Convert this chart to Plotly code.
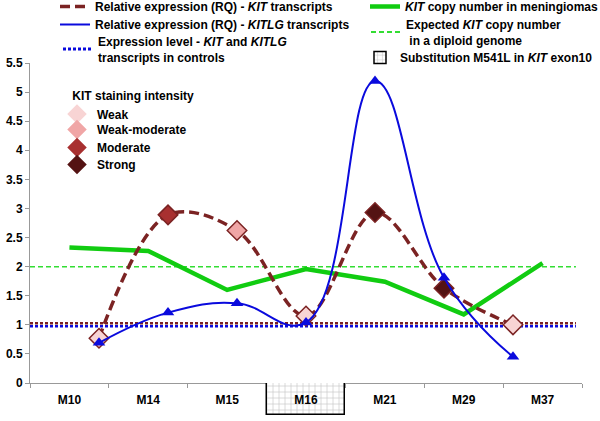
import plotly.graph_objects as go

# ---------------- data ----------------
samples = ["M10", "M14", "M15", "M16", "M21", "M29", "M37"]
kit_copy_number = [2.33, 2.27, 1.60, 1.96, 1.74, 1.18, 2.06]
kit_rq = [0.77, 2.89, 2.62, 1.15, 2.93, 1.63, 1.00]
kitlg_rq = [0.69, 1.21, 1.37, 1.04, 5.19, 1.81, 0.45]
kit_staining = ["Weak", "Moderate", "Weak-moderate", "Weak", "Strong", "Strong", "Weak"]
staining_levels = ["Weak", "Weak-moderate", "Moderate", "Strong"]
staining_colors = {"Weak": "#F8D4D4", "Weak-moderate": "#F0A6A6",
                   "Moderate": "#A83030", "Strong": "#541313"}
substitution_samples = ["M16"]
expected_copy_number = 2
control_expression = 1
y_ticks = [0, 0.5, 1, 1.5, 2, 2.5, 3, 3.5, 4, 4.5, 5, 5.5]

# positions of RQ points on the secondary (offset) axis
rq_pos = list(range(1, len(samples) + 1))

KIT_RED = "#7B2323"
BLUE = "#0A0ADD"
GREEN = "#11CC11"
GREEN_D = "#33DD33"
FONT = "Liberation Sans, Arial, sans-serif"
OFFSET = 8            # page is shifted up by this many pixels (see post_script)
W, H = 600, 421 + OFFSET

fig = go.Figure()

# green copy number line (category axis)
fig.add_trace(go.Scatter(
    x=samples, y=kit_copy_number, mode="lines",
    line=dict(color=GREEN, width=4.5),
    name="<i>KIT</i> copy number in meningiomas", legend="legend4",
    xaxis="x", yaxis="y"))

# KIT RQ line + markers (secondary x axis)
fig.add_trace(go.Scatter(
    x=rq_pos, y=kit_rq, mode="lines",
    line=dict(color=KIT_RED, width=3.5, dash="10px,5px", shape="spline", smoothing=1),
    name="Relative expression (RQ) - <i>KIT</i> transcripts", legend="legend",
    xaxis="x2", yaxis="y"))
fig.add_trace(go.Scatter(
    x=rq_pos, y=kit_rq, mode="markers",
    marker=dict(symbol="diamond", size=15,
                color=[staining_colors[s] for s in kit_staining],
                line=dict(color=KIT_RED, width=1.5)),
    showlegend=False, xaxis="x2", yaxis="y"))

# KITLG RQ line + markers
fig.add_trace(go.Scatter(
    x=rq_pos, y=kitlg_rq, mode="lines",
    line=dict(color=BLUE, width=2, shape="spline", smoothing=1.2),
    name="Relative expression (RQ) - <i>KITLG</i> transcripts", legend="legend2",
    xaxis="x2", yaxis="y"))
fig.add_trace(go.Scatter(
    x=rq_pos, y=kitlg_rq, mode="markers",
    marker=dict(symbol="triangle-up", size=11, color=BLUE),
    showlegend=False, xaxis="x2", yaxis="y"))

# legend-only entries for reference lines
fig.add_trace(go.Scatter(
    x=[None], y=[None], mode="lines",
    line=dict(color=BLUE, width=3, dash="3px,2px"),
    name="Expression level - <i>KIT</i> and <i>KITLG</i><br>transcripts in controls",
    legend="legend3", xaxis="x2", yaxis="y"))
fig.add_trace(go.Scatter(
    x=[None], y=[None], mode="lines",
    line=dict(color=GREEN_D, width=2, dash="5px,3px"),
    name="Expected <i>KIT</i> copy number<br> in a diploid genome",
    legend="legend5", xaxis="x2", yaxis="y"))

# substitution box below M16
fig.add_trace(go.Bar(
    x=substitution_samples, y=[1] * len(substitution_samples), width=1,
    marker=dict(color="white", line=dict(color="black", width=1.5),
                pattern=dict(shape="+", fgcolor="#8C8C8C", bgcolor="white",
                             size=6, solidity=0.2)),
    name="Substitution M541L in <i>KIT</i> exon10", legend="legend6",
    xaxis="x3", yaxis="y3"))

# staining intensity legend entries
for i, lvl in enumerate(staining_levels):
    fig.add_trace(go.Scatter(
        x=[None], y=[None], mode="markers",
        marker=dict(symbol="diamond", size=15, color=staining_colors[lvl]),
        name=lvl, legend="legend%d" % (7 + i), xaxis="x2", yaxis="y"))

# reference horizontal lines
fig.add_shape(type="line", xref="paper", yref="y", x0=0, x1=0.989,
              y0=expected_copy_number, y1=expected_copy_number, layer="below",
              line=dict(color=GREEN_D, width=1.5, dash="5px,3px"))
fig.add_shape(type="line", xref="paper", yref="y", x0=0, x1=0.989,
              ysizemode="pixel", yanchor=control_expression, y0=1.5, y1=1.5,
              layer="below", line=dict(color=KIT_RED, width=2.5, dash="3px,2px"))
fig.add_shape(type="line", xref="paper", yref="y", x0=0, x1=0.989,
              ysizemode="pixel", yanchor=control_expression, y0=-1.5, y1=-1.5,
              layer="below", line=dict(color=BLUE, width=2.5, dash="3px,2px"))


def leg(px, center, title=None):
    """legend whose first text line (or title) is centred at window row `center`"""
    top = center + OFFSET - (11 if title else 15)
    d = dict(xref="container", yref="container", bgcolor="rgba(0,0,0,0)",
             borderwidth=0, xanchor="left", yanchor="top",
             x=px / W, y=1 - top / H,
             font=dict(family=FONT, size=12, color="black", weight="bold"))
    if title:
        d["title"] = dict(text=title,
                          font=dict(family=FONT, size=12, color="black", weight="bold"))
    return d


split = 32 / 352.0

fig.update_layout(
    width=W, height=H,
    margin=dict(l=30, r=18, t=63 + OFFSET, b=6, autoexpand=False),
    paper_bgcolor="white", plot_bgcolor="rgba(0,0,0,0)",
    font=dict(family=FONT, size=12, color="black", weight="bold"),
    bargap=0,
    xaxis=dict(type="category", categoryorder="array", categoryarray=samples,
               range=[-0.5, len(samples) - 0.5], tickson="boundaries",
               showticklabels=False, ticks="outside", ticklen=4, tickcolor="#999999",
               showline=True, linecolor="#999999", linewidth=1, showgrid=False,
               zeroline=False, anchor="y"),
    xaxis2=dict(range=[0, len(samples) + 1], overlaying="x", anchor="y",
                visible=False),
    xaxis3=dict(type="category", categoryorder="array", categoryarray=samples,
                range=[-0.5, len(samples) - 0.5], anchor="free", position=split,
                showline=False, ticks="", showgrid=False, zeroline=False,
                ticklabelstandoff=8,
                tickfont=dict(family=FONT, size=12, color="black", weight="bold")),
    yaxis=dict(domain=[split, 1], range=[0, 5.5], tickvals=y_ticks,
               ticks="outside", ticklen=4, tickcolor="#999999",
               showline=True, linecolor="#999999", linewidth=1, showgrid=False,
               zeroline=False,
               tickfont=dict(family=FONT, size=12, color="black", weight="bold")),
    yaxis3=dict(domain=[0, split], range=[0, 1], visible=False, anchor="x3"),
    legend=leg(55, 7),
    legend2=leg(55, 25),
    legend3=leg(58, 42),
    legend4=leg(365, 7),
    legend5=leg(366, 25),
    legend6=leg(360, 58),
    legend7=leg(57, 95, "&nbsp;&nbsp;&nbsp;&nbsp;KIT staining intensity"),
    legend8=leg(57, 130),
    legend9=leg(57, 148),
    legend10=leg(57, 165),
    showlegend=True,
)

fig.write_html(
    "out.html",
    config={"displayModeBar": False},
    post_script="document.body.style.margin='0px'; document.body.style.marginTop='-%dpx';" % OFFSET,
)
